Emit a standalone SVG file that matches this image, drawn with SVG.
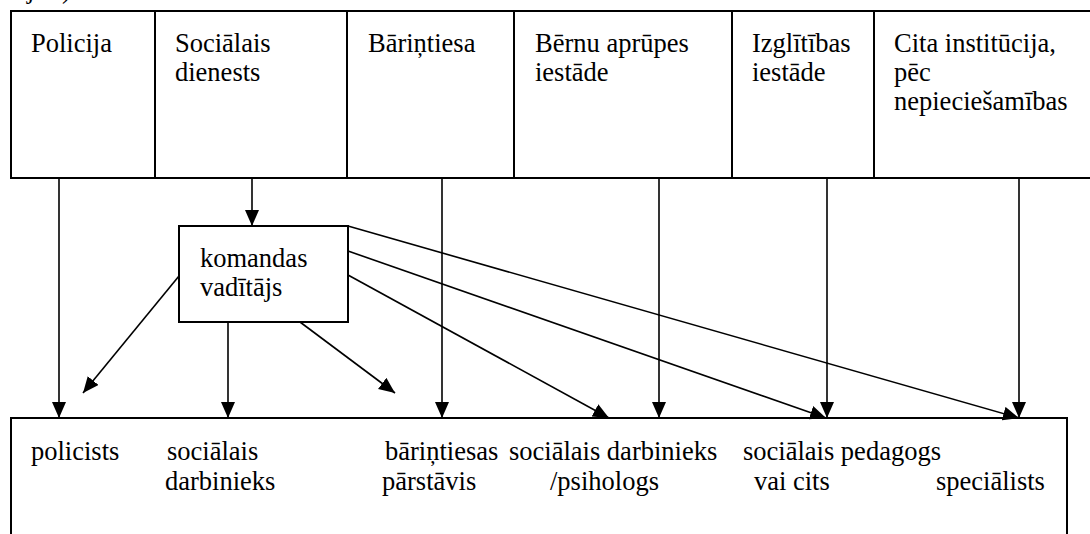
<svg xmlns="http://www.w3.org/2000/svg" width="1090" height="534" viewBox="0 0 1090 534" font-family="'Liberation Serif', 'Times New Roman', serif" font-size="26.5">
<defs>
<style>
text{font-family:'Liberation Serif','Times New Roman',serif;font-size:26.5px;fill:#000}
.box{fill:#fff;stroke:#000;stroke-width:2}
.div{stroke:#000;stroke-width:2}
.con{stroke:#000;stroke-width:1.6;fill:none;marker-end:url(#ah)}
</style>
<marker id="ah" markerUnits="userSpaceOnUse" markerWidth="17" markerHeight="15" refX="16" refY="7" orient="auto">
<path d="M0,0 L16,7 L0,14 z" fill="#000"/>
</marker>
</defs>
<rect width="1090" height="534" fill="#fff"/>
<g id="fragment">
<text x="27" y="-2">j</text>
<text x="62" y="-2">)</text>
</g>
<g id="top-row">
<rect class="box" x="11" y="11" width="1100" height="167"/>
<line class="div" x1="155" y1="11" x2="155" y2="178"/>
<line class="div" x1="347" y1="11" x2="347" y2="178"/>
<line class="div" x1="514" y1="11" x2="514" y2="178"/>
<line class="div" x1="732" y1="11" x2="732" y2="178"/>
<line class="div" x1="874" y1="11" x2="874" y2="178"/>
</g>
<g id="policija"><text x="31" y="52">Policija</text></g>
<g id="socialais-dienests"><text x="175" y="52">Sociālais</text><text x="175" y="81">dienests</text></g>
<g id="barintiesa"><text x="368" y="52">Bāriņtiesa</text></g>
<g id="bernu-aprupes"><text x="535" y="52">Bērnu aprūpes</text><text x="535" y="81">iestāde</text></g>
<g id="izglitibas"><text x="752" y="52">Izglītības</text><text x="752" y="81">iestāde</text></g>
<g id="cita"><text x="894" y="52">Cita institūcija,</text><text x="894" y="81">pēc</text><text x="894" y="110">nepieciešamības</text></g>
<g id="komandas-vaditajs">
<rect class="box" x="179" y="226" width="169" height="96"/>
<text x="200" y="267">komandas</text>
<text x="200" y="296">vadītājs</text>
</g>
<g id="specialists-box">
<rect class="box" x="11" y="418" width="1056" height="140"/>
<text x="31" y="460">policists</text>
<text x="167" y="460">sociālais</text>
<text x="165" y="490">darbinieks</text>
<text x="385" y="460">bāriņtiesas</text>
<text x="382" y="490">pārstāvis</text>
<text x="509" y="460">sociālais darbinieks</text>
<text x="550" y="490">/psihologs</text>
<text x="743" y="460">sociālais pedagogs</text>
<text x="754" y="490">vai cits</text>
<text x="936" y="490">speciālists</text>
</g>
<g id="connectors">
<line class="con" x1="59" y1="178" x2="59" y2="418"/>
<line class="con" x1="252" y1="178" x2="252" y2="226"/>
<line class="con" x1="442" y1="178" x2="442" y2="418"/>
<line class="con" x1="659" y1="178" x2="659" y2="418"/>
<line class="con" x1="827" y1="178" x2="827" y2="418"/>
<line class="con" x1="1019" y1="178" x2="1019" y2="418"/>
<line class="con" x1="179" y1="276" x2="83" y2="393"/>
<line class="con" x1="228" y1="322" x2="228" y2="418"/>
<line class="con" x1="300" y1="322" x2="395" y2="393"/>
<line class="con" x1="348" y1="275" x2="609" y2="418"/>
<line class="con" x1="348" y1="251" x2="826" y2="418"/>
<line class="con" x1="348" y1="226" x2="1019" y2="418"/>
</g>
</svg>
